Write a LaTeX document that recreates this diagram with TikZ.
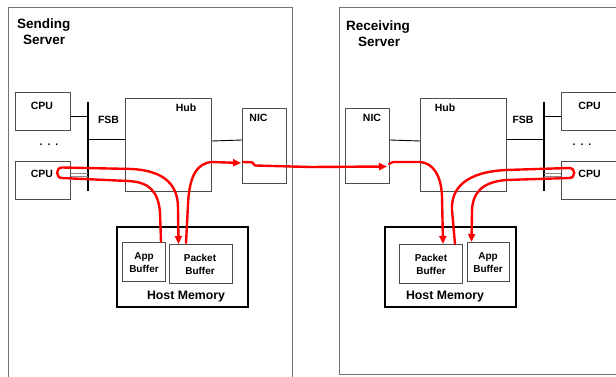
\documentclass[tikz,border=0pt]{standalone}
\usepackage{fontspec}
\setmainfont{Liberation Sans}
\usetikzlibrary{arrows.meta}
\begin{document}
\begin{tikzpicture}[x=1pt,y=-1pt,
  box/.style={draw=black!70, line width=0.8pt, inner sep=0pt, anchor=north west},
  server/.style={draw=black!55, line width=1pt, inner sep=0pt, anchor=north west},
  memory/.style={draw=black, line width=1.6pt, inner sep=0pt, anchor=north west},
  title/.style={font=\bfseries\fontsize{13.5}{15}\selectfont, inner sep=0pt, anchor=base west},
  lbl/.style={font=\bfseries\fontsize{10.5}{12}\selectfont, inner sep=0pt, anchor=base},
  buf/.style={font=\bfseries\fontsize{10}{12}\selectfont, inner sep=0pt, anchor=base},
  mem/.style={font=\bfseries\fontsize{12.3}{14}\selectfont, inner sep=0pt, anchor=base},
  wire/.style={draw=black, line width=0.9pt},
  bus/.style={draw=black, line width=2.6pt},
  gwire/.style={draw=black!45, line width=0.7pt},
  flow/.style={draw=red, line width=2.4pt, line cap=round, line join=round},
  tip/.style={-{Triangle[length=8pt,width=7pt]}}]
\useasboundingbox (0,0) rectangle (616,377);
\fill[white] (0,0) rectangle (616,377);

% ---------- servers ----------
\node[server, minimum width=284pt, minimum height=390pt] (srvL) at (8,7) {};
\node[server, minimum width=290pt, minimum height=367pt] (srvR) at (339,7) {};
\node[title] (tsend1) at (17,29) {Sending};
\node[title] (tsend2) at (23,45) {Server};
\node[title] (trecv1) at (346,31) {Receiving};
\node[title] (trecv2) at (358,47) {Server};

% ---------- left side ----------
\node[box, minimum width=55pt, minimum height=38pt] (cpuL1) at (15,92) {};
\node[box, minimum width=55pt, minimum height=38pt] (cpuL2) at (15,161) {};
\node[lbl] (tcpuL1) at (42,110) {CPU};
\node[lbl] (tcpuL2) at (42,177.5) {CPU};
\node[lbl] (dotsL) at (49,146) {.\hspace{5pt}.\hspace{5pt}.};
\coordinate (busLt) at (88,102);
\coordinate (busLb) at (88,191);
\node[box, minimum width=86pt, minimum height=93pt] (hubL) at (125,98) {};
\node[lbl] (thubL) at (186,112) {Hub};
\node[lbl] (tfsbL) at (108.5,124) {FSB};
\node[box, minimum width=44pt, minimum height=75pt] (nicL) at (242,108) {};
\node[lbl] (tnicL) at (258.5,122) {NIC};
\node[memory, minimum width=131pt, minimum height=80pt] (memL) at (116,226) {};
\node[box, minimum width=43pt, minimum height=39pt] (appL) at (122,242) {};
\node[box, minimum width=63pt, minimum height=39pt] (pktL) at (169,244) {};
\node[buf] (tappL1) at (144,259) {App};
\node[buf] (tappL2) at (144,272) {Buffer};
\node[buf] (tpktL1) at (200,261) {Packet};
\node[buf] (tpktL2) at (200,274) {Buffer};
\node[mem] (tmemL) at (186,299.5) {Host Memory};

\draw[bus] (busLt) -- (busLb);
\draw[wire] (cpuL1.east |- 0,116) -- (busLt |- 0,116);
\draw[wire] (busLt |- 0,139) -- (hubL.west |- 0,139);
\draw[wire] (hubL.east |- 0,141) -- (nicL.west |- 0,140);
\draw[gwire] (cpuL2.east |- 0,173.3) -- (busLt |- 0,173.3);
\draw[gwire] (cpuL2.east |- 0,175.9) -- (busLt |- 0,175.9);

% ---------- right side ----------
\node[box, minimum width=60pt, minimum height=38pt] (cpuR1) at (561,92) {};
\node[box, minimum width=60pt, minimum height=38pt] (cpuR2) at (561,161) {};
\node[lbl] (tcpuR1) at (589.5,110) {CPU};
\node[lbl] (tcpuR2) at (589.5,177.5) {CPU};
\node[lbl] (dotsR) at (582,146) {.\hspace{5pt}.\hspace{5pt}.};
\coordinate (busRt) at (544,102);
\coordinate (busRb) at (544,191);
\node[box, minimum width=86pt, minimum height=93pt] (hubR) at (420,98) {};
\node[lbl] (thubR) at (445,112) {Hub};
\node[lbl] (tfsbR) at (523,124) {FSB};
\node[box, minimum width=44pt, minimum height=75pt] (nicR) at (345,108) {};
\node[lbl] (tnicR) at (372,122) {NIC};
\node[memory, minimum width=131pt, minimum height=80pt] (memR) at (384,226) {};
\node[box, minimum width=63pt, minimum height=39pt] (pktR) at (399,244) {};
\node[box, minimum width=42pt, minimum height=39pt] (appR) at (467,242) {};
\node[buf] (tpktR1) at (431,261) {Packet};
\node[buf] (tpktR2) at (431,274) {Buffer};
\node[buf] (tappR1) at (488,259) {App};
\node[buf] (tappR2) at (488,272) {Buffer};
\node[mem] (tmemR) at (445,299.5) {Host Memory};

\draw[bus] (busRt) -- (busRb);
\draw[wire] (busRt |- 0,116) -- (cpuR1.west |- 0,116);
\draw[wire] (hubR.east |- 0,139) -- (busRt |- 0,139);
\draw[wire] (nicR.east |- 0,140) -- (hubR.west |- 0,141);
\draw[gwire] (busRt |- 0,173.3) -- (cpuR2.west |- 0,173.3);
\draw[gwire] (busRt |- 0,175.9) -- (cpuR2.west |- 0,175.9);

% ---------- data flow ----------
% left: app buffer -> CPU -> packet buffer
\draw[flow, tip] (161,242) -- (160,212)
  .. controls (158,192) and (150,182) .. (128,181) -- (62,178)
  .. controls (55.5,178) and (55.5,167.5) .. (62,167.5)
  -- (132,169) .. controls (166,171) and (178,186) .. (178,208) -- (178.5,244);
% left: packet buffer -> NIC
\draw[flow, tip] (186,243) -- (188,205)
  .. controls (189,178) and (196,163) .. (212,162) -- (241,163);
% NIC -> NIC
\draw[flow, tip] (243,162) -- (252,162.3) -- (255,165.5) -- (310,167) -- (387,166.5);
% right: NIC -> packet buffer
\draw[flow, tip] (389,164) -- (393,162) -- (420,162)
  .. controls (433,163) and (441,175) .. (442,196) -- (443,244);
% right: packet buffer -> CPU -> app buffer
\draw[flow, tip] (455,244) -- (452,210)
  .. controls (451,188) and (466,172) .. (506,170) -- (569,168)
  .. controls (576,168) and (576,178) .. (569,178)
  -- (506,180) .. controls (482,182) and (472,193) .. (472,212) -- (471.5,242);
\end{tikzpicture}
\end{document}
